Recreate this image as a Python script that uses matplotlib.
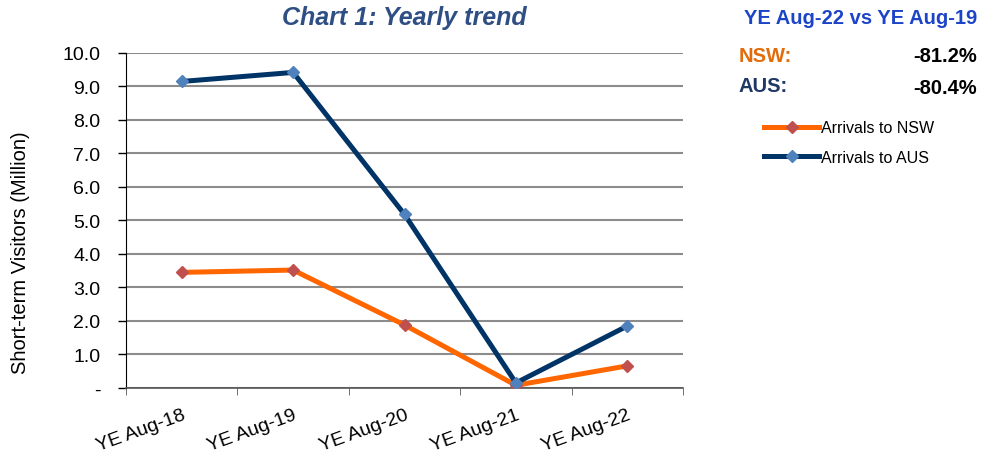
import matplotlib.pyplot as plt
import numpy as np

plt.rcParams['font.family'] = ['Liberation Sans', 'DejaVu Sans']

# data
categories = ['YE Aug-18', 'YE Aug-19', 'YE Aug-20', 'YE Aug-21', 'YE Aug-22']
nsw = [3.45, 3.52, 1.88, 0.08, 0.66]
aus = [9.15, 9.42, 5.18, 0.15, 1.85]
yticks = [0, 1, 2, 3, 4, 5, 6, 7, 8, 9, 10]
ytick_labels = ['-'] + [f'{v:.1f}' for v in yticks[1:]]

fig = plt.figure(figsize=(9.87, 4.56), dpi=100)
ax = fig.add_axes([0.1277, 0.147, 0.5643, 0.7346])

x = np.arange(len(categories))
ax.plot(x, nsw, color='#FF6600', lw=3.6, marker='D', ms=6,
        mfc='#C0504D', mec='#C0504D', label='Arrivals to NSW', zorder=3)
ax.plot(x, aus, color='#003366', lw=3.6, marker='D', ms=6,
        mfc='#4F81BD', mec='#4F81BD', label='Arrivals to AUS', zorder=3)

ax.set_xlim(-0.5, len(categories) - 0.5)
ax.set_ylim(0, 10)
ax.set_yticks(yticks)
ax.set_yticklabels(ytick_labels, fontsize=14)
ax.set_xticks(x)
ax.set_xticklabels(categories, fontsize=14, rotation=20, ha='right',
                   rotation_mode='anchor')
ax.tick_params(axis='x', length=0, pad=13)
ax.tick_params(axis='y', length=6, direction='out', color='black', width=1, pad=12.5)
# category boundary ticks
ax.set_xticks(np.arange(-0.5, len(categories)), minor=True)
ax.tick_params(axis='x', which='minor', length=5, direction='out', color='#555555')

ax.grid(axis='y', color='#8C8C8C', lw=1.5)
ax.set_axisbelow(True)
for s in ['top', 'right']:
    ax.spines[s].set_visible(False)
ax.spines['left'].set_color('black')
ax.spines['bottom'].set_color('#555555')
ax.spines['bottom'].set_linewidth(1.2)

ax.set_ylabel('Short-term Visitors (Million)', fontsize=14.5)
ax.yaxis.set_label_coords(-0.172, 0.406)

fig.text(0.41, 0.96, 'Chart 1: Yearly trend', fontsize=18, fontweight='bold',
         fontstyle='italic', color='#2E4E84', ha='center', va='center')

# side panel
fig.text(0.990, 0.96, 'YE Aug-22 vs YE Aug-19', fontsize=14.5, fontweight='bold',
         color='#1C44C8', ha='right', va='center')
fig.text(0.748, 0.877, 'NSW:', fontsize=14.5, fontweight='bold', color='#E36C0A', va='center')
fig.text(0.990, 0.875, '-81.2%', fontsize=14.5, fontweight='bold', color='black',
         ha='right', va='center')
fig.text(0.748, 0.811, 'AUS:', fontsize=14.5, fontweight='bold', color='#1F3864', va='center')
fig.text(0.990, 0.805, '-80.4%', fontsize=14.5, fontweight='bold', color='black',
         ha='right', va='center')

fig.legend(loc='upper left', bbox_to_anchor=(0.768, 0.748), frameon=False,
           fontsize=11.5, handlelength=3.4, handletextpad=0.15, labelspacing=0.9,
           borderaxespad=0)

plt.savefig('out.png', dpi=100)
